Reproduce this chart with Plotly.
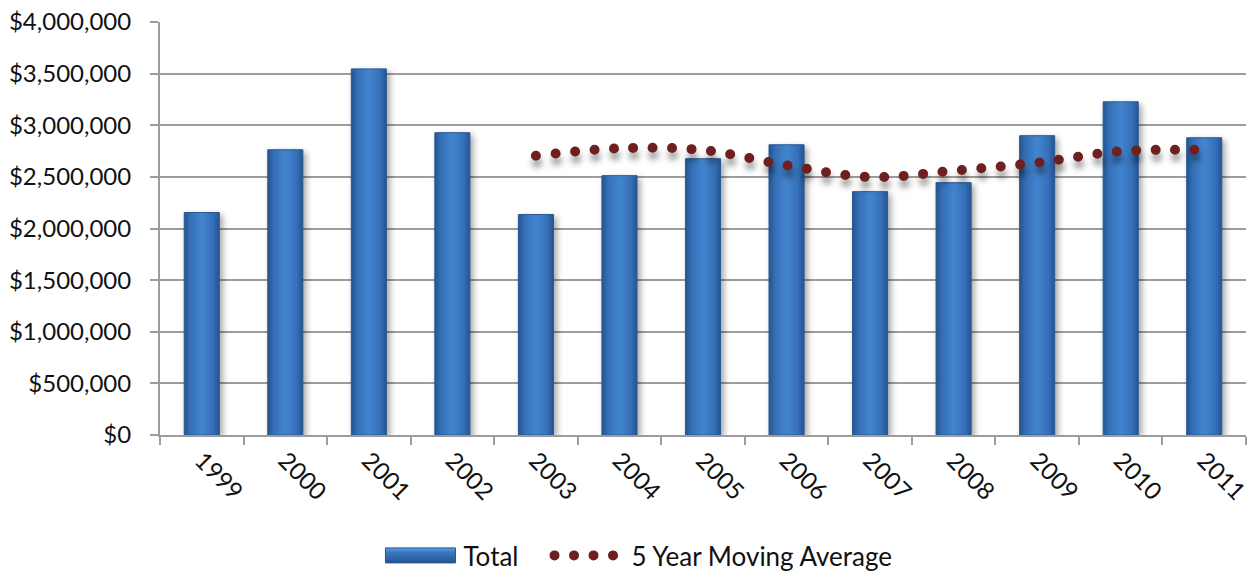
import plotly.graph_objects as go

# Annual totals and the 5-year moving average
years = ["1999", "2000", "2001", "2002", "2003", "2004", "2005",
         "2006", "2007", "2008", "2009", "2010", "2011"]
totals = [2155000, 2763000, 3546000, 2928000, 2135000, 2512000, 2676000,
          2811000, 2357000, 2444000, 2899000, 3227000, 2879000]
ma_years = ["2003", "2004", "2005", "2006", "2007", "2008", "2009", "2010", "2011"]
moving_avg = [2705000, 2777000, 2759000, 2612000, 2498000, 2560000,
              2637000, 2748000, 2761000]
y_ticks = [0, 500000, 1000000, 1500000, 2000000, 2500000, 3000000, 3500000, 4000000]

FONT = "Lato, 'Open Sans', sans-serif"
GRID = "#9c9c9c"

fig = go.Figure()
fig.add_trace(go.Bar(
    x=years, y=totals, name="Total", width=0.42,
    marker=dict(color="#3a74bb", line=dict(color="#2a5a94", width=1)),
))
fig.add_trace(go.Scatter(
    x=ma_years, y=moving_avg, name="5 Year Moving Average", mode="lines",
    line=dict(color="#6e1f1f", width=10, dash="0px,19.5px",
              shape="spline", smoothing=1),
))

fig.update_layout(
    width=1253, height=571,
    margin=dict(l=160, r=1, t=22, b=136),
    paper_bgcolor="white", plot_bgcolor="white",
    font=dict(family=FONT, size=24, color="#111111"),
    showlegend=True,
    legend=dict(orientation="h", xref="container", yref="container",
                x=0.314, xanchor="left", y=0.0, yanchor="bottom",
                font=dict(size=26), itemwidth=60, traceorder="normal"),
    bargap=0.5,
)
fig.update_xaxes(
    type="category", tickangle=45, showgrid=False,
    showline=True, linecolor=GRID, linewidth=2,
    ticks="outside", tickson="boundaries", ticklen=8, tickcolor=GRID,
    tickwidth=2, tickfont=dict(size=24),
)
fig.update_yaxes(
    range=[0, 4000000], tickvals=y_ticks,
    ticktext=["$" + format(v, ",") for v in y_ticks],
    showgrid=True, gridcolor=GRID, gridwidth=2,
    showline=True, linecolor=GRID, linewidth=2,
    ticks="outside", ticklen=8, tickcolor=GRID, tickwidth=2,
    ticklabelstandoff=14,
    zeroline=False, tickfont=dict(size=24),
)

# Round dot caps, shaded bars, soft shadows and a wide bar key
post = """
var gd = document.getElementById('{plot_id}');
function shift(el, dx, dy){
  var m = /translate\\(([-\\d.]+),\\s*([-\\d.]+)\\)/.exec(el.getAttribute('transform') || '');
  var x = m ? parseFloat(m[1]) : 0, y = m ? parseFloat(m[2]) : 0;
  el.setAttribute('transform', 'translate(' + (x + dx) + ',' + (y + dy) + ')');
}
function decorate(){
  var svg = gd.querySelector('.main-svg');
  var defs = svg.querySelector('defs');
  if (!document.getElementById('barGrad')) {
    var ns = 'http://www.w3.org/2000/svg';
    var g = document.createElementNS(ns, 'linearGradient');
    g.setAttribute('id', 'barGrad');
    g.setAttribute('x1', '0'); g.setAttribute('x2', '1');
    g.setAttribute('y1', '0'); g.setAttribute('y2', '0');
    [[0, '#24548f'], [0.18, '#3570b8'], [0.5, '#4384cf'],
     [0.82, '#3570b8'], [1, '#24548f']].forEach(function(s){
      var st = document.createElementNS(ns, 'stop');
      st.setAttribute('offset', s[0]);
      st.setAttribute('stop-color', s[1]);
      g.appendChild(st);
    });
    var gv = document.createElementNS(ns, 'linearGradient');
    gv.setAttribute('id', 'keyGrad');
    gv.setAttribute('x1', '0'); gv.setAttribute('x2', '0');
    gv.setAttribute('y1', '0'); gv.setAttribute('y2', '1');
    [[0, '#5f9fe0'], [0.3, '#3a78c2'], [1, '#24548f']].forEach(function(s){
      var st = document.createElementNS(ns, 'stop');
      st.setAttribute('offset', s[0]);
      st.setAttribute('stop-color', s[1]);
      gv.appendChild(st);
    });
    defs.appendChild(g);
    defs.appendChild(gv);
  }
  gd.querySelectorAll('.barlayer .point path').forEach(function(p){
    p.style.fill = 'url(#barGrad)';
    p.style.filter = 'drop-shadow(3px 3px 3px rgba(0,0,0,0.35))';
  });
  gd.querySelectorAll('.js-line').forEach(function(p){
    p.style.strokeLinecap = 'round';
  });
  gd.querySelectorAll('.scatterlayer .js-line').forEach(function(p){
    p.style.filter = 'drop-shadow(1px 7px 3px rgba(0,0,0,0.4))';
  });
  var legend = gd.querySelector('.legend');
  if (!legend || legend.dataset.done) return;
  legend.dataset.done = '1';
  legend.querySelectorAll('[clip-path]').forEach(function(el){
    el.removeAttribute('clip-path');
  });
  shift(legend, 0, 8);
  legend.querySelectorAll('.traces').forEach(function(tr){
    if (tr.querySelector('.js-line')) {
      // extra room between the two legend entries
      shift(tr, 26, 0);
      var lt = tr.querySelector('.legendtext');
      if (lt) lt.setAttribute('x', parseFloat(lt.getAttribute('x')) + 12);
      return;
    }
    var key = tr.querySelector('.legendpoints path');
    var txt = tr.querySelector('.legendtext');
    if (!key || !txt) return;
    var bb = key.getBBox();
    var r = key.getBoundingClientRect();
    var t = txt.getBoundingClientRect();
    var right = bb.x + (t.left - 8 - r.left);
    var left = right - 70;
    var cy = bb.y + bb.height / 2;
    key.setAttribute('d', 'M' + left + ',' + (cy - 7.5) + 'H' + right +
                     'V' + (cy + 7.5) + 'H' + left + 'Z');
    key.style.fill = 'url(#keyGrad)';
    key.style.stroke = '#24548f';
  });
}
decorate();
gd.on('plotly_afterplot', decorate);
"""

fig.write_html("out.html", post_script=post)
